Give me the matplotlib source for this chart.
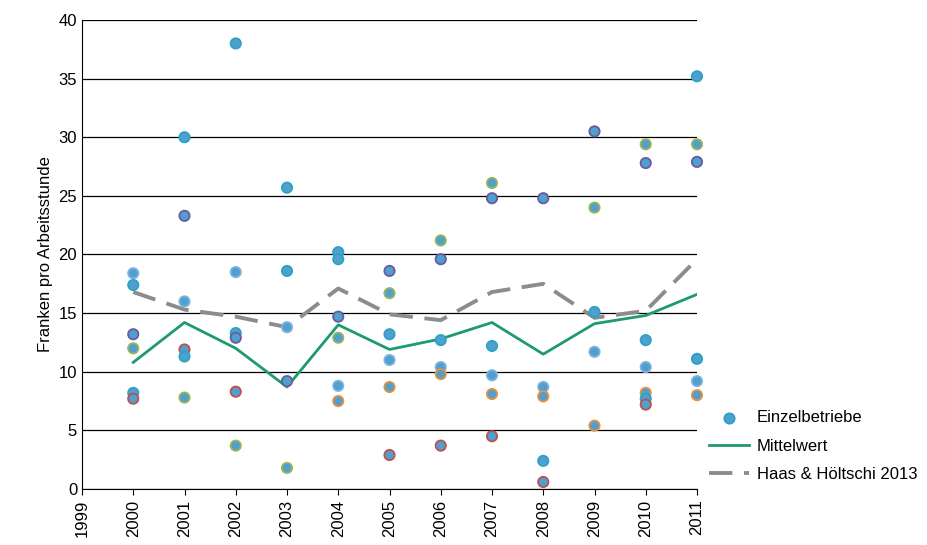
import matplotlib.pyplot as plt

plt.rcParams['font.family'] = ['Liberation Sans', 'DejaVu Sans']

years = list(range(1999, 2012))

# Einzelbetriebe: year, value, edge colour key
farm_years = ([2000] * 6 + [2001] * 6 + [2002] * 6 + [2003] * 5 + [2004] * 6 + [2005] * 6
              + [2006] * 6 + [2007] * 6 + [2008] * 5 + [2009] * 5 + [2010] * 7 + [2011] * 6)
farm_values = [18.4, 17.4, 13.2, 12.0, 8.2, 7.7,
               30.0, 23.3, 16.0, 11.9, 11.3, 7.8,
               38.0, 18.5, 13.3, 12.9, 8.3, 3.7,
               25.7, 18.6, 13.8, 9.2, 1.8,
               20.2, 19.6, 14.7, 12.9, 8.8, 7.5,
               18.6, 16.7, 13.2, 11.0, 8.7, 2.9,
               21.2, 19.6, 12.7, 10.4, 9.8, 3.7,
               26.1, 24.8, 12.2, 9.7, 8.1, 4.5,
               24.8, 8.7, 7.9, 2.4, 0.6,
               30.5, 24.0, 15.1, 11.7, 5.4,
               29.4, 27.8, 12.7, 10.4, 8.2, 7.7, 7.2,
               35.2, 29.4, 27.9, 11.1, 9.2, 8.0]
farm_edges = ['lb', 'tl', 'pu', 'ol', 'tl', 'rd',
              'tl', 'pu', 'lb', 'rd', 'tl', 'ol',
              'tl', 'lb', 'tl', 'pu', 'rd', 'ol',
              'tl', 'tl', 'lb', 'pu', 'ol',
              'tl', 'tl', 'pu', 'ol', 'lb', 'or',
              'pu', 'ol', 'tl', 'lb', 'or', 'rd',
              'ol', 'pu', 'tl', 'lb', 'or', 'rd',
              'ol', 'pu', 'tl', 'lb', 'or', 'rd',
              'pu', 'lb', 'or', 'tl', 'rd',
              'pu', 'ol', 'tl', 'lb', 'or',
              'ol', 'pu', 'tl', 'lb', 'or', 'tl', 'rd',
              'tl', 'ol', 'pu', 'tl', 'lb', 'or']
edge_colors = {'lb': '#7fb3dc', 'tl': '#2aa3c4', 'pu': '#6a5a9e', 'ol': '#9bb556',
               'rd': '#c0504d', 'or': '#e8913a'}

mean_years = list(range(2000, 2012))
mean_values = [10.8, 14.2, 12.0, 8.7, 14.0, 11.9, 12.8, 14.2, 11.5, 14.1, 14.8, 16.6]
haas_values = [16.8, 15.3, 14.7, 13.8, 17.1, 14.9, 14.4, 16.8, 17.5, 14.6, 15.2, 19.6]

fig = plt.figure(figsize=(9.27, 5.45), dpi=100)
ax = fig.add_axes([82 / 927, 56 / 545, 615 / 927, 469 / 545])

ax.set_ylim(0, 40)
ax.set_xlim(1999, 2011)
ax.set_yticks(range(0, 41, 5))
ax.yaxis.grid(True, color='black', linewidth=0.9)
ax.set_axisbelow(True)

ax.scatter(farm_years, farm_values, s=55, c='#4f9fcf',
           edgecolors=[edge_colors[k] for k in farm_edges], linewidths=1.3,
           zorder=3, label='Einzelbetriebe', clip_on=False)
ax.plot(mean_years, mean_values, color='#1e9b6e', linewidth=2, zorder=2, label='Mittelwert')
ax.plot(mean_years, haas_values, color='#8c8c8c', linewidth=2.8, dashes=(6, 3),
        zorder=2, label='Haas & Höltschi 2013')

ax.set_xticks(years)
ax.set_xticklabels([str(y) for y in years], rotation=90)
ax.tick_params(axis='both', labelsize=12, length=4)
ax.tick_params(axis='y', length=0)
ax.set_ylabel('Franken pro Arbeitsstunde', fontsize=12)

for side in ('top', 'right'):
    ax.spines[side].set_visible(False)

leg = ax.legend(loc='lower left', bbox_to_anchor=(1.0, -0.01), frameon=False,
                fontsize=12, labelspacing=0.8, handlelength=2.4, handletextpad=0.5,
                borderaxespad=0.3)
leg.legend_handles[0].set_edgecolor('#2aa3c4')

fig.savefig('out.png', dpi=100)
